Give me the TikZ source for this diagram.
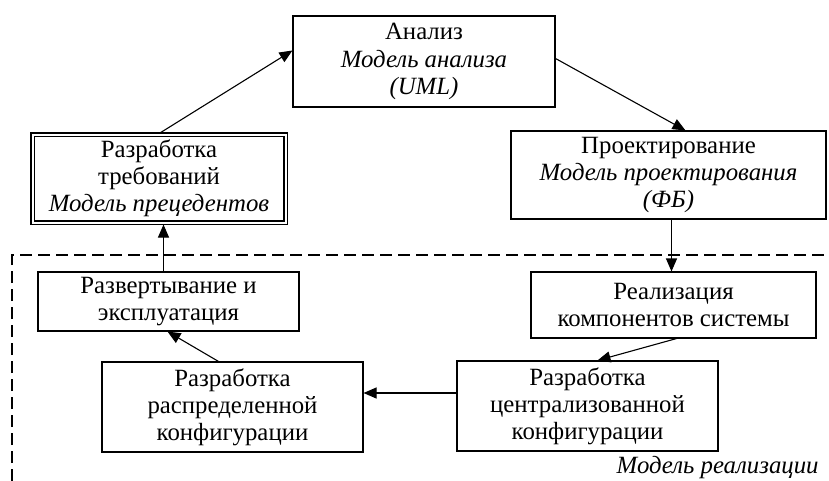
\documentclass[tikz,border=0pt]{standalone}
\usepackage{fontspec}
\setmainfont{Liberation Serif}
\usetikzlibrary{arrows.meta,calc}
\begin{document}
\begin{tikzpicture}[x=0.5pt,y=-0.5pt,
  box/.style={draw,line width=0.55pt,align=center,inner sep=0pt,
    font=\fontsize{12.4}{13.6}\selectfont},
  flow/.style={line width=0.55pt,-{Triangle[length=6.5pt,width=5.5pt]}},
  frame/.style={line width=0.9pt,dash pattern=on 6pt off 3pt}]
\useasboundingbox (0,0) rectangle (829,481);

% stages of the process
\node[box,minimum width=131pt,minimum height=45.5pt] (ana) at (424,61.5)
  {Анализ\\\textit{Модель анализа}\\\textit{(UML)}};
\node[box,double,double distance=1pt,minimum width=126.5pt,minimum height=44pt] (req) at (159,178.5)
  {Разработка\\требований\\\textit{Модель прецедентов}};
\node[box,minimum width=157.5pt,minimum height=44pt] (des) at (668.5,175)
  {Проектирование\\\textit{Модель проектирования}\\\textit{(ФБ)}};
\node[box,minimum width=130.5pt,minimum height=29.5pt] (dep) at (168.5,301.5)
  {Развертывание и\\эксплуатация};
\node[box,minimum width=142.5pt,minimum height=33pt] (comp) at (673.5,305)
  {Реализация\\компонентов системы};
\node[box,minimum width=130.5pt,minimum height=45pt] (dis) at (232.5,407)
  {Разработка\\распределенной\\конфигурации};
\node[box,minimum width=130.5pt,minimum height=45pt] (cen) at (587.5,406)
  {Разработка\\централизованной\\конфигурации};

% implementation model frame
\coordinate (fbl) at (12,481);
\coordinate (ftl) at (12,255);
\coordinate (ftr) at (829,255);
\draw[frame] (fbl) -- (ftl) -- (ftr);
\node[anchor=east,inner sep=0pt,font=\fontsize{12.4}{13.6}\selectfont\itshape] (impl) at (819,468)
  {Модель реализации};

% connectors
\draw[flow] ($(req.north)+(1,-1)$) -- ($(ana.west)+(0,-11)$);
\draw[flow] ($(ana.east)+(0,-3)$) -- ($(des.north)+(17,0)$);
\draw[flow] ($(des.south)+(3,0)$) coordinate (d1) -- (d1 |- comp.north);
\draw[flow] ($(comp.south)+(3,0)$) -- ($(cen.north)+(10,0)$);
\draw[flow] ($(cen.west)+(0,-13)$) coordinate (c1) -- (c1 -| dis.east);
\draw[flow] ($(dis.north)+(-14,0)$) -- ($(dep.south)+(-1,0)$);
\draw[flow] ($(dep.north)+(-5,0)$) coordinate (e1) -- ($(e1 |- req.south)+(0,1.5)$);
\end{tikzpicture}
\end{document}
